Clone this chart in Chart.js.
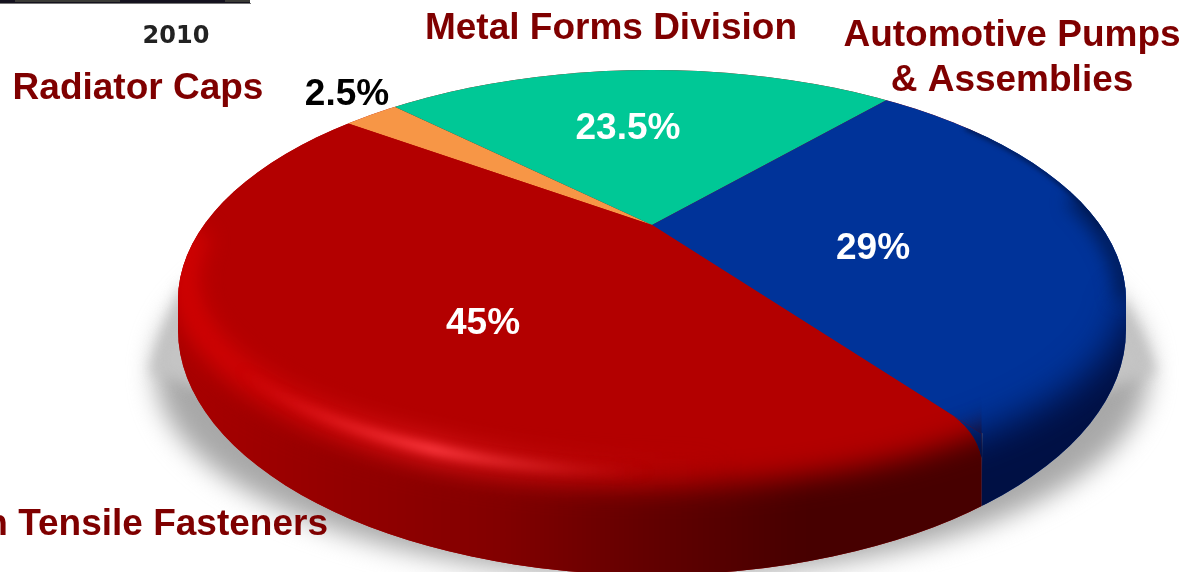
<!DOCTYPE html>
<html>
<head>
<meta charset="utf-8">
<style>html,body{margin:0;padding:0;background:#fff}canvas{display:block}</style>
<script src="https://cdn.jsdelivr.net/npm/chart.js@4"></script>
</head>
<body>
<canvas id="pie" width="1202" height="572"></canvas>
<script>
// Revenue split by division, 2010
const year = '2010';
const divisions = ['Radiator Caps', 'Metal Forms Division', 'Automotive Pumps & Assemblies', 'High Tensile Fasteners'];
const shares = [2.5, 23.5, 29, 45];
const sliceColors = ['#f79646', '#00c896', '#003399', '#b30000'];

// Tilted-disc geometry: the far half of the rim, the near half of the face
// and the near half of the body have their own vertical radii
const apex = { x: 652, y: 225 };
const face = { x: 652, y: 300, rx: 474, ryFar: 230, ryNear: 186 };
const body = { y: 330, ry: 245 };
const tilt = 0.45;
const zoom = 2.8;

const labelFont = 'bold 37px "Liberation Sans", Arial, sans-serif';
const nameColor = '#7f0000';
const nameLabels = [
  { lines: ['Radiator Caps'], x: 138, y: 99 },
  { lines: ['Metal Forms Division'], x: 611, y: 39 },
  { lines: ['Automotive Pumps', '& Assemblies'], x: 1012, y: 46 },
  { lines: ['High Tensile Fasteners'], x: 328, y: 535, align: 'right' }
];
const valueLabels = [
  { x: 347, y: 105, color: '#000' },
  { x: 628, y: 139, color: '#fff' },
  { x: 873, y: 259, color: '#fff' },
  { x: 483, y: 334, color: '#fff' }
];

function facePath(ctx) {
  ctx.beginPath();
  ctx.ellipse(face.x, face.y, face.rx, face.ryFar, 0, Math.PI, Math.PI * 2);
  ctx.ellipse(face.x, face.y, face.rx, face.ryNear, 0, 0, Math.PI);
  ctx.closePath();
}
function bodyPath(ctx) {
  ctx.beginPath();
  ctx.ellipse(face.x, face.y, face.rx, face.ryFar, 0, Math.PI, Math.PI * 2);
  ctx.ellipse(face.x, body.y, face.rx, body.ry, 0, 0, Math.PI);
  ctx.closePath();
}
// Point where a ray from the apex, at a slice angle, meets the near rim of the face
function rimPoint(angle) {
  const dx = Math.cos(angle), dy = Math.sin(angle) * tilt;
  const ox = (apex.x - face.x) / face.rx, oy = (apex.y - face.y) / face.ryNear;
  const ux = dx / face.rx, uy = dy / face.ryNear;
  const a = ux * ux + uy * uy, b = 2 * (ox * ux + oy * uy), c = ox * ox + oy * oy - 1;
  const t = (-b + Math.sqrt(b * b - 4 * a * c)) / (2 * a);
  return { x: apex.x + dx * t, y: apex.y + dy * t };
}
// Horizontal stretch of the front wall that belongs to a slice
function wallSpan(arc) {
  let lo = Infinity, hi = -Infinity;
  for (let a = arc.startAngle; a <= arc.endAngle; a += 0.005) {
    const p = rimPoint(a);
    if (p.y > face.y) { lo = Math.min(lo, p.x); hi = Math.max(hi, p.x); }
  }
  if (hi < lo) return null;
  if (lo < face.x - face.rx + 12) lo = 0;
  if (hi > face.x + face.rx - 12) hi = 1202;
  return { lo, hi };
}
// Everything below the near rim of the face, reaching well past the outline
function wallOverlayPath(ctx) {
  ctx.beginPath();
  ctx.ellipse(face.x, face.y, face.rx, face.ryNear, 0, Math.PI, 0, true);
  ctx.lineTo(1400, face.y);
  ctx.lineTo(1400, 800);
  ctx.lineTo(-200, 800);
  ctx.lineTo(-200, face.y);
  ctx.closePath();
}
function hGradient(ctx, stops) {
  const g = ctx.createLinearGradient(150, 0, 1150, 0);
  stops.forEach(([x, c]) => g.addColorStop((x - 150) / 1000, c));
  return g;
}

const discPlugin = {
  id: 'disc',
  beforeDatasetsDraw(chart) {
    const ctx = chart.ctx;
    const arcs = chart.getDatasetMeta(0).data;
    // soft ground shadow
    ctx.save();
    ctx.filter = 'blur(13px)';
    ctx.fillStyle = '#a8a8a8';
    ctx.beginPath();
    ctx.ellipse(652, 372, 497, 205, 0, 0, Math.PI * 2);
    ctx.fill();
    ctx.filter = 'blur(7px)';
    ctx.fillStyle = '#c4c4c4';
    ctx.beginPath();
    ctx.moveTo(182, 285); ctx.lineTo(150, 372); ctx.lineTo(230, 400); ctx.closePath();
    ctx.moveTo(1122, 300); ctx.lineTo(1156, 372); ctx.lineTo(1080, 400); ctx.closePath();
    ctx.fill();
    ctx.restore();
    // side wall, one colour per slice that reaches the front
    arcs.forEach((arc, i) => {
      const span = wallSpan(arc);
      if (!span) return;
      ctx.save();
      bodyPath(ctx);
      ctx.clip();
      ctx.fillStyle = sliceColors[i];
      ctx.fillRect(span.lo, 0, span.hi - span.lo, 580);
      ctx.restore();
    });
    // slices of the pie, projected onto the tilted face
    ctx.save();
    facePath(ctx);
    ctx.clip();
    const first = arcs[0];
    ctx.translate(apex.x, apex.y);
    ctx.scale(zoom, zoom * tilt);
    ctx.translate(-first.x, -first.y);
  },
  afterDatasetsDraw(chart) {
    const ctx = chart.ctx;
    ctx.restore();
    const arcs = chart.getDatasetMeta(0).data;
    const seam = rimPoint(arcs[3].startAngle);
    const slope = (seam.y - apex.y) / (seam.x - apex.x);

    // red side: wall shading and highlight along the front rim
    ctx.save();
    bodyPath(ctx);
    ctx.clip();
    ctx.beginPath();
    ctx.rect(0, 0, seam.x, 580);
    ctx.clip();
    ctx.filter = 'blur(14px)';
    ctx.fillStyle = hGradient(ctx, [[180, '#a80000'], [320, '#960000'], [500, '#820000'], [640, '#640000'], [800, '#470000'], [1000, '#470000']]);
    wallOverlayPath(ctx);
    ctx.fill();
    ctx.filter = 'blur(11px)';
    ctx.lineWidth = 26;
    ctx.strokeStyle = hGradient(ctx, [[170, 'rgba(214,0,0,0.95)'], [290, 'rgba(210,6,8,0.8)'], [433, 'rgba(225,25,30,0.8)'], [560, 'rgba(205,15,18,0.5)'], [730, 'rgba(190,0,0,0)'], [1100, 'rgba(190,0,0,0)']]);
    ctx.beginPath();
    ctx.ellipse(face.x, 279, face.rx - 7, 193, 0, Math.PI * 0.3, Math.PI * 1.08);
    ctx.stroke();
    ctx.filter = 'blur(5px)';
    ctx.lineWidth = 9;
    ctx.strokeStyle = hGradient(ctx, [[240, 'rgba(224,20,24,0)'], [330, 'rgba(232,32,36,0.7)'], [433, 'rgba(255,60,66,1)'], [540, 'rgba(222,40,42,0.6)'], [650, 'rgba(200,10,10,0)'], [1100, 'rgba(190,0,0,0)']]);
    ctx.beginPath();
    ctx.ellipse(face.x, 279, face.rx - 7, 193, 0, Math.PI * 0.3, Math.PI);
    ctx.stroke();
    ctx.restore();

    // the blue wedge bends down around the red front edge at the seam
    const g = ctx.createLinearGradient(0, seam.y - 20, 0, seam.y + 25);
    g.addColorStop(0, '#003399');
    g.addColorStop(1, '#001a5c');
    ctx.fillStyle = g;
    ctx.beginPath();
    ctx.moveTo(seam.x - 36, seam.y - 36 * slope);
    ctx.quadraticCurveTo(seam.x - 6, seam.y - 5, seam.x, seam.y + 24);
    ctx.lineTo(seam.x, seam.y);
    ctx.closePath();
    ctx.fill();

    // blue side: dark wall and shaded edge, limited to the wedge above the seam
    ctx.save();
    bodyPath(ctx);
    ctx.clip();
    ctx.beginPath();
    ctx.moveTo(seam.x - 120, seam.y - 120 * slope);
    ctx.lineTo(seam.x - 36, seam.y - 36 * slope);
    ctx.quadraticCurveTo(seam.x - 6, seam.y - 5, seam.x, seam.y + 24);
    ctx.lineTo(seam.x, 580);
    ctx.lineTo(1300, 580);
    ctx.lineTo(1300, 0);
    ctx.lineTo(seam.x - 120, 0);
    ctx.closePath();
    ctx.clip();
    ctx.filter = 'blur(18px)';
    ctx.fillStyle = '#001044';
    wallOverlayPath(ctx);
    ctx.fill();
    ctx.filter = 'blur(2.5px)';
    ctx.lineWidth = 5;
    ctx.strokeStyle = '#001a55';
    ctx.beginPath();
    ctx.ellipse(face.x, face.y, face.rx, face.ryFar, 0, -Math.PI * 0.27, -Math.PI * 0.1);
    ctx.stroke();
    ctx.filter = 'blur(9px)';
    ctx.lineWidth = 20;
    ctx.beginPath();
    ctx.ellipse(face.x, face.y, face.rx, face.ryFar, 0, -Math.PI * 0.15, 0);
    ctx.stroke();
    ctx.restore();
  },
  afterDraw(chart) {
    const ctx = chart.ctx;
    ctx.save();
    // strip of the image above the year
    ctx.fillStyle = '#14121e';
    ctx.fillRect(0, 0, 250, 3);
    ctx.fillStyle = '#3a3a36';
    ctx.fillRect(15, 0, 105, 2);
    ctx.fillRect(225, 0, 25, 2);
    ctx.fillStyle = '#777';
    ctx.fillRect(0, 3, 251, 1);
    // year
    ctx.save();
    ctx.filter = 'blur(0.7px)';
    ctx.font = 'bold 24px "DejaVu Sans", sans-serif';
    ctx.fillStyle = '#222';
    ctx.textAlign = 'center';
    ctx.fillText(year, 176, 43);
    ctx.restore();
    // division names
    ctx.font = labelFont;
    ctx.fillStyle = nameColor;
    nameLabels.forEach(l => {
      ctx.textAlign = l.align || 'center';
      l.lines.forEach((t, k) => ctx.fillText(t, l.x, l.y + k * 45));
    });
    // shares
    ctx.textAlign = 'center';
    valueLabels.forEach((l, i) => {
      ctx.fillStyle = l.color;
      ctx.fillText(shares[i] + '%', l.x, l.y);
    });
    ctx.restore();
  }
};

new Chart(document.getElementById('pie'), {
  type: 'pie',
  data: {
    labels: divisions,
    datasets: [{ data: shares, backgroundColor: sliceColors, borderWidth: 0, clip: false }]
  },
  options: {
    responsive: false,
    animation: false,
    rotation: -53.4,
    layout: { padding: 0 },
    plugins: { legend: { display: false }, tooltip: { enabled: false }, title: { display: false } }
  },
  plugins: [discPlugin]
});
</script>
</body>
</html>
